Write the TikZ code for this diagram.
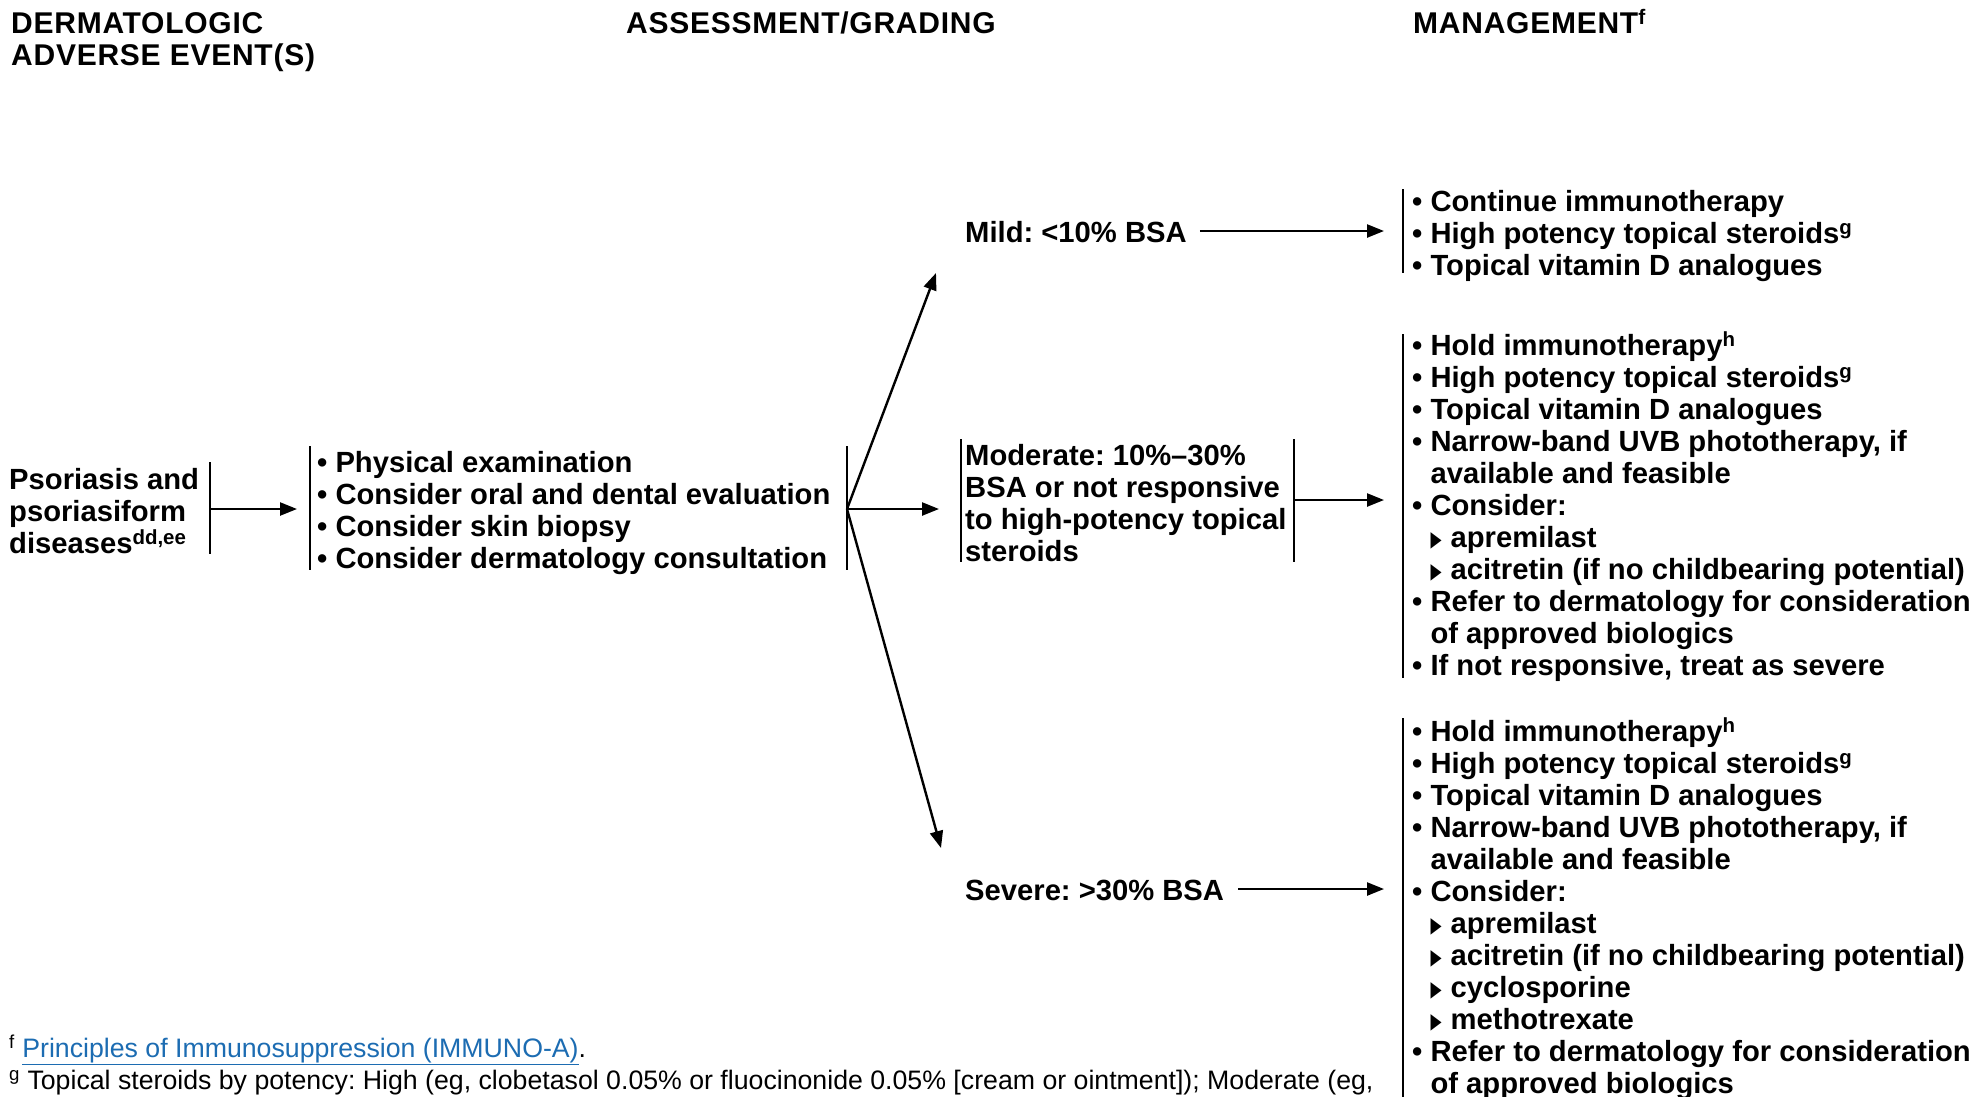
\documentclass[tikz,border=0pt]{standalone}
\usepackage{fontspec}
\setmainfont{Liberation Sans}
\newfontfamily\symf{DejaVu Sans}
\usetikzlibrary{arrows.meta}
\definecolor{linkblue}{RGB}{28,108,178}
\frenchspacing
% strut fixing the distance from the node top to the first baseline
\newcommand\topstrut{\rule{0pt}{30pt}}
\newcommand\bul{•\ }
\newcommand\hang{\hphantom{•\ }}
% small right-pointing triangle for sub-items
\newcommand\tri{\raisebox{1pt}{\symf\fontsize{18}{18}\selectfont\scalebox{0.8}[1.2]{▶}}}
\newcommand\sub{\hang\tri\hspace{9pt}}
\begin{document}
\begin{tikzpicture}[x=1pt,y=-1pt,
  hdr/.style={anchor=north west,inner sep=0pt,align=left,
    font=\bfseries\fontsize{30}{32}\selectfont\addfontfeatures{LetterSpace=2.5}},
  blk/.style={anchor=north west,inner sep=0pt,align=left,
    font=\bfseries\fontsize{29.2}{32}\selectfont},
  note/.style={anchor=north west,inner sep=0pt,align=left,
    font=\fontsize{26.7}{32}\selectfont},
  bar/.style={line width=2pt},
  conn/.style={line width=2.4pt,-{Triangle[length=17pt,width=13pt]}},
]
\useasboundingbox (0,0) rectangle (1976,1096);

% column headings
\node[hdr] (h1) at (11,3) {\topstrut DERMATOLOGIC\\ADVERSE EVENT(S)};
\node[hdr] (h2) at (626,3) {\topstrut ASSESSMENT/GRADING};
\node[hdr] (h3) at (1413,3) {\topstrut MANAGEMENT\textsuperscript{f}};

% adverse event
\node[blk] (ae) at (9,459) {\topstrut Psoriasis and\\psoriasiform\\diseases\textsuperscript{dd,ee}};
\draw[bar] (210,462) -- (210,554);

% assessment
\node[blk] (as) at (317,442) {\topstrut\bul Physical examination\\
  \bul Consider oral and dental evaluation\\
  \bul Consider skin biopsy\\
  \bul Consider dermatology consultation};
\draw[bar] (310,446) -- (310,570);
\draw[bar] (847,446) -- (847,570);

% grades
\node[blk] (mild) at (965,212) {\topstrut Mild: <10\% BSA};
\node[blk] (mod) at (965,435) {\topstrut Moderate: 10\%–30\%\\
  BSA or not responsive\\
  to high-potency topical\\
  steroids};
\draw[bar] (961,439) -- (961,562);
\draw[bar] (1294,439) -- (1294,562);
\node[blk] (sev) at (965,870) {\topstrut Severe: >30\% BSA};

% management
\node[blk] (mgA) at (1412,181) {\topstrut\bul Continue immunotherapy\\
  \bul High potency topical steroids\textsuperscript{g}\\
  \bul Topical vitamin D analogues};
\draw[bar] (1403,189) -- (1403,273);

\node[blk] (mgB) at (1412,325) {\topstrut\bul Hold immunotherapy\textsuperscript{h}\\
  \bul High potency topical steroids\textsuperscript{g}\\
  \bul Topical vitamin D analogues\\
  \bul Narrow-band UVB phototherapy, if\\
  \hang available and feasible\\
  \bul Consider:\\
  \sub apremilast\\
  \sub acitretin (if no childbearing potential)\\
  \bul Refer to dermatology for consideration\\
  \hang of approved biologics\\
  \bul If not responsive, treat as severe};
\draw[bar] (1403,334) -- (1403,678);

\node[blk] (mgC) at (1412,711) {\topstrut\bul Hold immunotherapy\textsuperscript{h}\\
  \bul High potency topical steroids\textsuperscript{g}\\
  \bul Topical vitamin D analogues\\
  \bul Narrow-band UVB phototherapy, if\\
  \hang available and feasible\\
  \bul Consider:\\
  \sub apremilast\\
  \sub acitretin (if no childbearing potential)\\
  \sub cyclosporine\\
  \sub methotrexate\\
  \bul Refer to dermatology for consideration\\
  \hang of approved biologics};
\draw[bar] (1403,718) -- (1403,1100);

% connector end points on the bars
\coordinate (aeR) at (210,509);
\coordinate (asIn) at (297,509);
\coordinate (fork) at (847,509);
\coordinate (tipMild) at (936,273);
\coordinate (tipMod) at (939,509);
\coordinate (tipSev) at (941,848);
\coordinate (modR) at (1294,500);
\coordinate (inA) at (1384,231);
\coordinate (inB) at (1384,500);
\coordinate (inC) at (1384,889);

\draw[conn] (aeR) -- (asIn);
\draw[conn] (fork) -- (tipMild);
\draw[conn] (fork) -- (tipMod);
\draw[conn] (fork) -- (tipSev);
\draw[conn,shorten <=13pt] (mild.east |- inA) -- (inA);
\draw[conn] (modR) -- (inB);
\draw[conn,shorten <=14pt] (sev.east |- inC) -- (inC);

% footnotes
\node[note] (fn) at (9,1027) {\topstrut\textsuperscript{f} \textcolor{linkblue}{\underline{Principles of Immunosuppression (IMMUNO-A)}}.\\
  \textsuperscript{g} Topical steroids by potency: High (eg, clobetasol 0.05\% or fluocinonide 0.05\% [cream or ointment]); Moderate (eg,};
\end{tikzpicture}
\end{document}
